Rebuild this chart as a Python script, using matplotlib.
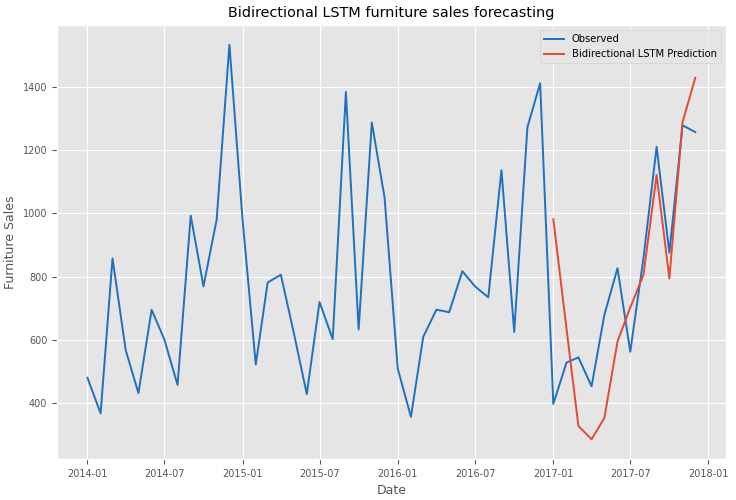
import pandas as pd
import matplotlib.pyplot as plt

plt.style.use("ggplot")

# vendas mensais observadas (média por mês)
datas = pd.date_range("2014-01-01", "2017-12-01", freq="MS")
observado = [480.2, 367.9, 857.3, 567.5, 432.0, 695.1, 601.2, 457.5, 992.4, 769.0, 980.2, 1532.3,
             978.3, 522.4, 781.2, 805.8, 625.0, 428.6, 719.7, 602.4, 1382.8, 633.0, 1286.7, 1049.4,
             508.8, 356.9, 609.6, 695.4, 687.3, 816.9, 768.7, 734.3, 1136.0, 624.9, 1271.3, 1410.7,
             397.6, 528.2, 544.7, 453.3, 678.3, 826.5, 562.5, 857.9, 1209.5, 875.4, 1277.8, 1256.3]

# previsão do modelo para 2017
datas_prev = pd.date_range("2017-01-01", "2017-12-01", freq="MS")
previsao = [981, 635, 328, 286, 353, 595, 702, 805, 1121, 794, 1288, 1428]

serie_obs = pd.Series(observado, index=datas)
serie_prev = pd.Series(previsao, index=datas_prev)

fig, ax = plt.subplots(figsize=(7.36, 5), dpi=100)
fig.subplots_adjust(left=0.0775, right=0.986, top=0.95, bottom=0.082)

ax.plot(serie_obs.index, serie_obs.values, color="#1f70c1", lw=1.4, label="Observed")
ax.plot(serie_prev.index, serie_prev.values, color="#E24A33", lw=1.4, label="Bidirectional LSTM Prediction")

ax.set_title("Bidirectional LSTM furniture sales forecasting", fontsize=10.4)
ax.set_xlabel("Date", fontsize=9)
ax.set_ylabel("Furniture Sales", fontsize=9)
ax.tick_params(labelsize=7)
ax.legend(loc="upper right", fontsize=7.2)

plt.savefig("out.png")
